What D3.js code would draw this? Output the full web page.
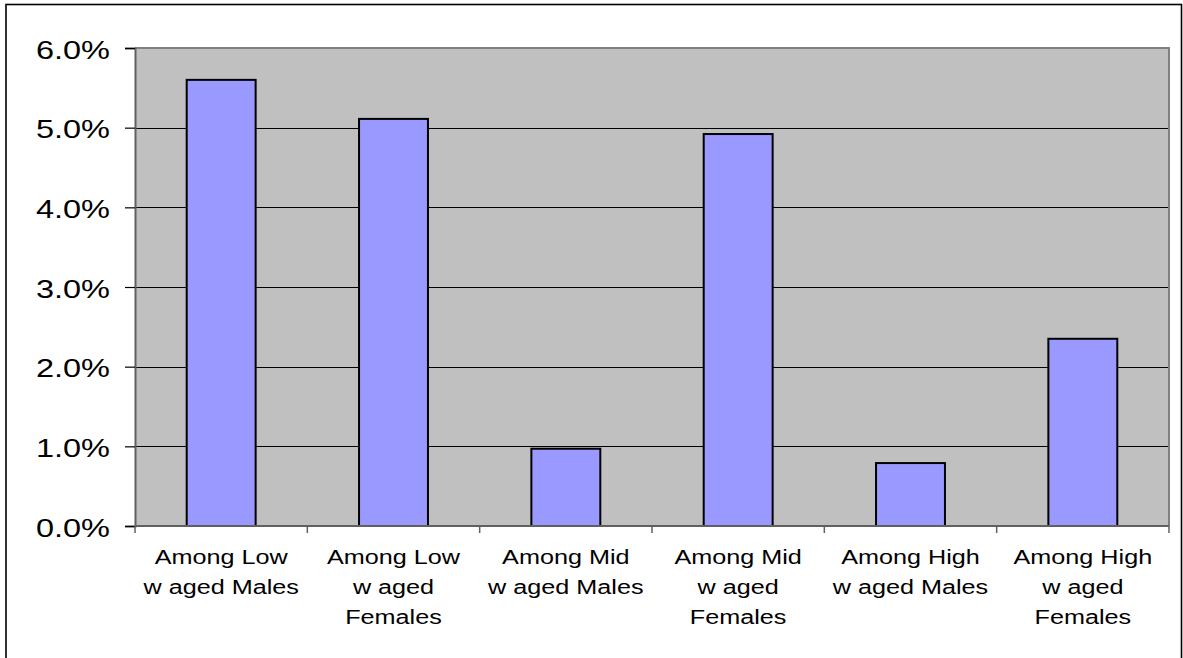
<!DOCTYPE html>
<html>
<head>
<meta charset="utf-8">
<script src="https://cdn.jsdelivr.net/npm/d3@7"></script>
<style>
  html, body { margin: 0; padding: 0; background: #ffffff; }
  svg { display: block; }
  text { font-family: "Liberation Sans", Arial, sans-serif; fill: #000; }
</style>
</head>
<body>
<svg id="chart" width="1183" height="658"></svg>
<script>
// Category labels, line breaks as they wrap under each bar
const categories = [
  "Among Low\nw aged Males",
  "Among Low\nw aged\nFemales",
  "Among Mid\nw aged Males",
  "Among Mid\nw aged\nFemales",
  "Among High\nw aged Males",
  "Among High\nw aged\nFemales"
];
// Share of each group (fraction)
const shares = [0.056, 0.0511, 0.0097, 0.0492, 0.0079, 0.0235];
// Value-axis ticks
const yTicks = [0, 0.01, 0.02, 0.03, 0.04, 0.05, 0.06];

const svg = d3.select("#chart");
const plot = { left: 135, right: 1169, top: 48, bottom: 526 };

// Outer chart frame
svg.append("rect")
  .attr("x", 6).attr("y", 4.5)
  .attr("width", 1175.5).attr("height", 700)
  .attr("fill", "#fff").attr("stroke", "#000").attr("stroke-width", 1.6);

const x = d3.scaleBand()
  .domain(categories)
  .range([plot.left, plot.right])
  .paddingInner(0.6)
  .paddingOuter(0.3);

const y = d3.scaleLinear()
  .domain([0, 0.06])
  .range([plot.bottom, plot.top]);

// Plot background
svg.append("rect")
  .attr("x", plot.left).attr("y", plot.top)
  .attr("width", plot.right - plot.left).attr("height", plot.bottom - plot.top)
  .attr("fill", "#c0c0c0");

// Gridlines
svg.append("g")
  .selectAll("line")
  .data(yTicks.filter(t => t > 0 && t < 0.06))
  .join("line")
  .attr("x1", plot.left).attr("x2", plot.right)
  .attr("y1", d => Math.round(y(d)) + 0.5).attr("y2", d => Math.round(y(d)) + 0.5)
  .attr("stroke", "#000").attr("stroke-width", 1.2);

// Plot border (top and right)
svg.append("path")
  .attr("d", `M${plot.left},${plot.top}H${plot.right}V${plot.bottom}`)
  .attr("fill", "none").attr("stroke", "#808080").attr("stroke-width", 2);

// Bars
svg.append("g")
  .selectAll("rect")
  .data(categories.map((c, i) => ({ c, v: shares[i] })))
  .join("rect")
  .attr("x", d => x(d.c))
  .attr("y", d => y(d.v))
  .attr("width", x.bandwidth())
  .attr("height", d => y(0) - y(d.v))
  .attr("fill", "#9999ff")
  .attr("stroke", "#000")
  .attr("stroke-width", 2);

// Value axis
const yAxis = svg.append("g")
  .attr("transform", `translate(${plot.left},0)`)
  .call(d3.axisLeft(y).tickValues(yTicks).tickFormat(d3.format(".1%")).tickSize(10).tickPadding(15));
yAxis.select(".domain").attr("stroke", "#606060").attr("stroke-width", 2);
yAxis.selectAll(".tick line").attr("stroke", "#000").attr("stroke-width", 1.2);
yAxis.selectAll(".tick text")
  .attr("x", null).attr("dy", null)
  .attr("transform", "translate(-25,10) scale(1.25,1)")
  .attr("font-size", 26)
  .attr("font-family", "Liberation Sans, Arial, sans-serif")
  .attr("text-anchor", "end");

// Category axis line and boundary ticks
svg.append("line")
  .attr("x1", plot.left).attr("x2", plot.right)
  .attr("y1", plot.bottom).attr("y2", plot.bottom)
  .attr("stroke", "#606060").attr("stroke-width", 2);
svg.append("g")
  .selectAll("line")
  .data(d3.range(categories.length + 1))
  .join("line")
  .attr("x1", i => plot.left + i * x.step()).attr("x2", i => plot.left + i * x.step())
  .attr("y1", plot.bottom).attr("y2", plot.bottom + 7)
  .attr("stroke", "#606060").attr("stroke-width", 1.5);

// Category labels
const labels = svg.append("g")
  .selectAll("g")
  .data(categories)
  .join("g")
  .attr("transform", d => `translate(${x(d) + x.bandwidth() / 2},564) scale(1.2,1)`);
labels.each(function (d) {
  d3.select(this).selectAll("text")
    .data(d.split("\n"))
    .join("text")
    .attr("y", (t, i) => i * 30)
    .attr("text-anchor", "middle")
    .attr("font-size", 21)
    .text(t => t);
});
</script>
</body>
</html>
